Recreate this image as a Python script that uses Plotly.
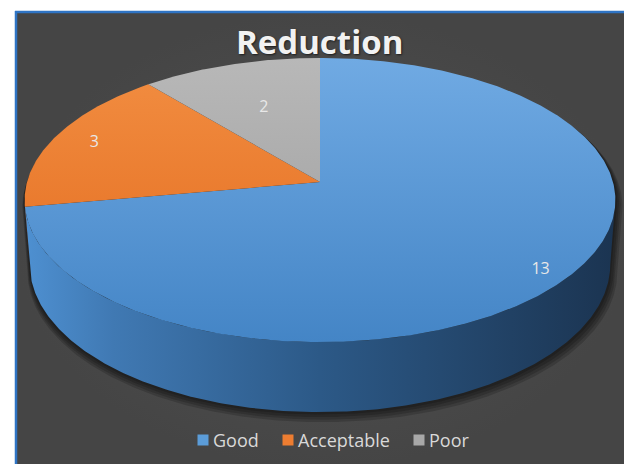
import numpy as np
import plotly.graph_objects as go

# ---- data -------------------------------------------------------------
categories = ["Good", "Acceptable", "Poor"]
values = [13, 3, 2]
chart_title = "Reduction"

# ---- styling ----------------------------------------------------------
W, H = 624, 464
top_grad = [("#70aae3", "#4485c6"), ("#f28e42", "#e2691c"), ("#b8b8b8", "#9b9b9b")]
side_grad = [
    [[0, "#4e90d1"], [0.15, "#4079b3"], [0.5, "#2c5987"], [1, "#1b3451"]],
    [[0, "#c55a17"], [1, "#8a3d0f"]],
    [[0, "#8a8a8a"], [1, "#5e5e5e"]],
]
swatch = ["#5b9cd8", "#ed7d31", "#a8a8a8"]
label_radius = [0.91, 0.85, 0.60]   # where each value sits along its slice bisector
legend_x = [203, 288, 419]          # swatch centres of the legend row
legend_y = 440

# ---- simple pinhole camera looking down on a flat disc ---------------
CX, CY = 320.0, 182.0
TILT = np.radians(28.5)
DIST = 6.94
FOCAL = 293.0 * DIST
THICK = 0.253


def project(x, z, h=0.0):
    d = DIST + z * np.cos(TILT) - h * np.sin(TILT)
    up = z * np.sin(TILT) + h * np.cos(TILT)
    return CX + FOCAL * x / d, CY - FOCAL * up / d


def rim(a0, a1, r=1.0, h=0.0, step=0.5):
    n = max(2, int(abs(a1 - a0) / step) + 1)
    phi = np.radians(np.linspace(a0, a1, n))
    return project(r * np.sin(phi), r * np.cos(phi), h)


total = sum(values)
bounds = np.concatenate([[0], np.cumsum(values) / total * 360.0])

# visible front band of the side wall: between the two silhouette angles
grid = np.arange(0, 360, 0.25)
gx, _ = rim(0, 359.75, step=0.25)
phi_right = grid[np.argmax(gx)]
phi_left = grid[np.argmin(gx)]
x_left, x_right = gx.min(), gx.max()

fig = go.Figure()

# background panel
bx = [16, W + 5, W + 5, 16, 16]
by = [12, 12, H + 5, H + 5, 12]
fig.add_trace(go.Scatter(
    x=bx, y=by, mode="lines", fill="toself", line=dict(width=0),
    fillgradient=dict(type="radial", colorscale=[[0, "#525252"], [1, "#454545"]]),
    hoverinfo="skip", showlegend=False))

# soft drop shadow under the disc
sx1, sy1 = rim(phi_left, 360 + phi_right)
sx2, sy2 = rim(phi_right, phi_left, h=-THICK)
sil_x = np.concatenate([sx1, sx2])
sil_y = np.concatenate([sy1, sy2])
for k in range(1, 5):
    sc = 1 + 0.004 * k
    fig.add_trace(go.Scatter(
        x=CX + (sil_x - CX) * sc + 0.6 * k, y=CY + (sil_y - CY) * sc + 1.6 * k,
        mode="lines", fill="toself", line=dict(width=0),
        fillcolor="rgba(0,0,0,0.17)", hoverinfo="skip", showlegend=False))

# side wall, one piece per slice where it faces the viewer
for i in range(len(values)):
    a0, a1 = bounds[i], bounds[i + 1]
    s0, s1 = max(a0, phi_right), min(a1, phi_left)
    if s1 <= s0:
        continue
    tx, ty = rim(s0, s1)
    ux, uy = rim(s1, s0, h=-THICK)
    fig.add_trace(go.Scatter(
        x=np.concatenate([tx, ux, tx[:1]]), y=np.concatenate([ty, uy, ty[:1]]),
        mode="lines", fill="toself", line=dict(width=0),
        fillgradient=dict(type="horizontal", colorscale=side_grad[i],
                          start=x_left, stop=x_right),
        hoverinfo="skip", showlegend=False))

# top faces
_, top_y = project(0, 1)
_, bot_y = project(0, -1)
for i in range(len(values)):
    a0, a1 = bounds[i], bounds[i + 1]
    rx, ry = rim(a0, a1)
    px = np.concatenate([[CX], rx, [CX]])
    py = np.concatenate([[CY], ry, [CY]])
    c0, c1 = top_grad[i]
    fig.add_trace(go.Scatter(
        x=px, y=py, mode="lines", fill="toself", line=dict(width=0),
        fillgradient=dict(type="vertical", colorscale=[[0, c0], [1, c1]],
                          start=top_y, stop=bot_y),
        name=categories[i], hoverinfo="skip", showlegend=False))

# value labels on the slices
lx, ly = [], []
for i in range(len(values)):
    mid = np.radians((bounds[i] + bounds[i + 1]) / 2)
    x, y = project(label_radius[i] * np.sin(mid), label_radius[i] * np.cos(mid))
    lx.append(x)
    ly.append(y)
fig.add_trace(go.Scatter(
    x=lx, y=ly, mode="text", text=[str(v) for v in values],
    textfont=dict(family="Open Sans", size=16, color="#e8e8e8"),
    hoverinfo="skip", showlegend=False))

# legend row
fig.add_trace(go.Scatter(
    x=legend_x, y=[legend_y] * len(categories), mode="markers",
    marker=dict(symbol="square", size=11, color=swatch, line=dict(width=0)),
    hoverinfo="skip", showlegend=False))
for i, name in enumerate(categories):
    fig.add_annotation(x=legend_x[i] + 8, y=legend_y, text=name, showarrow=False,
                       xanchor="left", yanchor="middle",
                       font=dict(family="Open Sans", size=18, color="#d9d9d9"))

# title
fig.add_annotation(x=319, y=41, text=f"<b>{chart_title}</b>", showarrow=False,
                   xanchor="center", yanchor="middle",
                   font=dict(family="Open Sans", size=33, color="#f2f2f2",
                             shadow="1px 1px 2px rgba(0,0,0,0.6)"))

# blue frame on the visible top and left edges
frame = dict(color="#2f74c4", width=2.5)
fig.add_shape(type="line", x0=16, x1=16, y0=11, y1=H + 10, line=frame)
fig.add_shape(type="line", x0=15, x1=W + 10, y0=12, y1=12, line=frame)

fig.update_xaxes(range=[0, W], visible=False, fixedrange=True)
fig.update_yaxes(range=[H, 0], visible=False, fixedrange=True)
fig.update_layout(width=W, height=H, margin=dict(l=0, r=0, t=0, b=0),
                  paper_bgcolor="white", plot_bgcolor="white", showlegend=False)

fig.write_html("out.html", config={"displayModeBar": False})
